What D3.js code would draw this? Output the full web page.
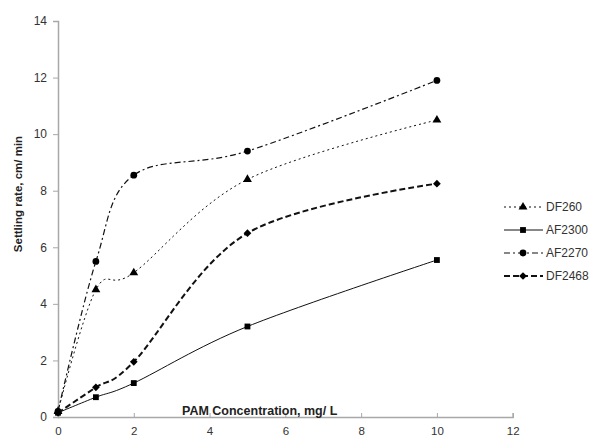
<!DOCTYPE html>
<html>
<head>
<meta charset="utf-8">
<script src="https://cdn.jsdelivr.net/npm/d3@7"></script>
<style>
  body { margin: 0; background: #fff; }
  svg { font-family: "Liberation Sans", Arial, sans-serif; }
</style>
</head>
<body>
<div id="chart"></div>
<script>
// PAM concentration (mg/L)
const concentrations = [0, 1, 2, 5, 10];
// settling rate (cm/min) for each flocculant
const df260 = [0.2, 4.5, 5.1, 8.4, 10.5];
const af2300 = [0.15, 0.7, 1.2, 3.2, 5.55];
const af2270 = [0.2, 5.5, 8.55, 9.4, 11.9];
const df2468 = [0.15, 1.05, 1.95, 6.5, 8.25];
const seriesNames = ["DF260", "AF2300", "AF2270", "DF2468"];
const xTicks = [0, 2, 4, 6, 8, 10, 12];
const yTicks = [0, 2, 4, 6, 8, 10, 12, 14];

const width = 591;
const height = 439;
const margin = { top: 21, right: 78, bottom: 22, left: 58 };

const series = [
  { name: seriesNames[0], values: df260, dash: "2,3", width: 1, marker: d3.symbolTriangle, size: 34 },
  { name: seriesNames[1], values: af2300, dash: null, width: 1, marker: d3.symbolSquare, size: 34 },
  { name: seriesNames[2], values: af2270, dash: "6,3,2,3", width: 1.2, marker: d3.symbolCircle, size: 36 },
  { name: seriesNames[3], values: df2468, dash: "6,3", width: 2, marker: d3.symbolDiamond2, size: 38 }
];

const svg = d3.select("#chart").append("svg")
  .attr("width", width)
  .attr("height", height);

const x = d3.scaleLinear().domain([0, 12]).range([margin.left, 512.7]);
const y = d3.scaleLinear().domain([0, 14]).range([417, margin.top]);

// y axis
const yAxis = svg.append("g")
  .attr("transform", `translate(${x(0)},0)`)
  .call(d3.axisLeft(y).tickValues(yTicks).tickSize(5).tickPadding(6));
yAxis.select(".domain").attr("stroke", "#a8a8a8").attr("stroke-width", 1.5);
yAxis.selectAll(".tick line").attr("stroke", "#a8a8a8");
yAxis.selectAll(".tick text").attr("fill", "#333").style("font-size", "12px");

// x axis (ticks point up into the plot)
const xAxis = svg.append("g")
  .attr("transform", `translate(0,${y(0)})`)
  .call(d3.axisBottom(x).tickValues(xTicks).tickSize(-4).tickPadding(10));
xAxis.select(".domain").attr("stroke", "#a8a8a8").attr("stroke-width", 1.5);
xAxis.selectAll(".tick line").attr("stroke", "#a8a8a8");
xAxis.selectAll(".tick text").attr("fill", "#333").style("font-size", "11.5px");

// axis titles
svg.append("text")
  .attr("x", 182)
  .attr("y", 415)
  .attr("fill", "#222")
  .style("font-size", "12.5px")
  .style("font-weight", "bold")
  .text("PAM Concentration, mg/ L");

svg.append("text")
  .attr("transform", "translate(22,194) rotate(-90)")
  .attr("text-anchor", "middle")
  .attr("fill", "#222")
  .style("font-size", "11.5px")
  .style("font-weight", "bold")
  .text("Settling rate, cm/ min");

const line = d3.line()
  .x((d, i) => x(concentrations[i]))
  .y((d) => y(d))
  .curve(d3.curveCatmullRom.alpha(0));

series.forEach((s) => {
  svg.append("path")
    .datum(s.values)
    .attr("fill", "none")
    .attr("stroke", "#111")
    .attr("stroke-width", s.width)
    .attr("stroke-dasharray", s.dash)
    .attr("d", line);

  svg.append("g")
    .selectAll("path")
    .data(s.values)
    .join("path")
    .attr("transform", (d, i) => `translate(${x(concentrations[i])},${y(d)})`)
    .attr("d", d3.symbol().type(s.marker).size(s.size))
    .attr("fill", "#000");
});

// legend
const legend = svg.append("g").attr("transform", "translate(504,207)");
series.forEach((s, i) => {
  const g = legend.append("g").attr("transform", `translate(0,${i * 23})`);
  g.append("line")
    .attr("x1", 0).attr("x2", 39)
    .attr("stroke", "#111")
    .attr("stroke-width", s.width)
    .attr("stroke-dasharray", s.dash);
  g.append("path")
    .attr("transform", "translate(19,0)")
    .attr("d", d3.symbol().type(s.marker).size(s.size))
    .attr("fill", "#000");
  g.append("text")
    .attr("x", 42)
    .attr("dy", "0.35em")
    .attr("fill", "#333")
    .style("font-size", "12px")
    .text(s.name);
});
</script>
</body>
</html>
